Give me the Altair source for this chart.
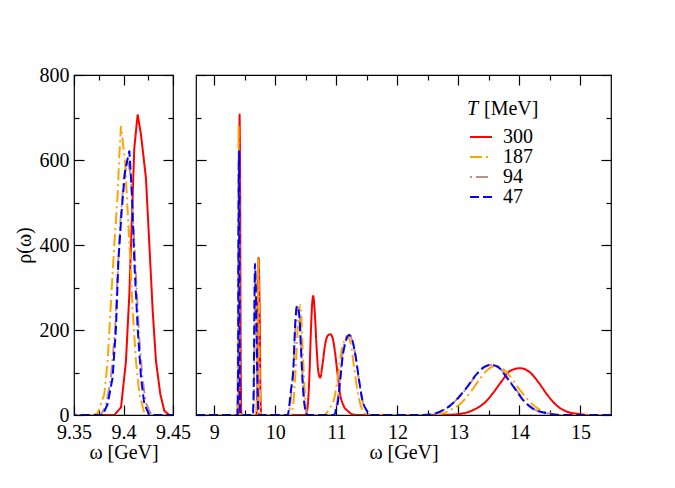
import altair as alt
import pandas as pd

# ---------------- data ----------------
T_LABELS = ["300", "187", "94", "47"]
COLORS = ["#ff0000", "#ffa500", "#bc8f8f", "#0000ff"]
DASHES = [[1, 0], [12, 4, 2, 4], [2, 4, 12, 4], [9, 4]]

w_300 = [8.70, 9.380, 9.3907, 9.3975, 9.4025, 9.4059, 9.4093, 9.4109, 9.4143, 9.4177,
         9.4227, 9.4261, 9.4295, 9.4328, 9.4372, 9.4412, 9.4462,
         9.690, 9.705, 9.715, 9.725, 9.735, 9.745, 9.755, 9.765, 9.775,
         10.500, 10.528, 10.555, 10.583, 10.605, 10.620, 10.648, 10.676, 10.703, 10.735,
         10.774, 10.817, 10.856, 10.899, 10.937, 10.975, 11.020, 11.062, 11.118, 11.183,
         11.260, 11.350,
         12.700, 12.900, 13.082, 13.274, 13.438, 13.574, 13.711, 13.848, 14.011, 14.175,
         14.311, 14.449, 14.613, 14.777, 14.995, 15.200, 15.500]
r_300 = [0, 0, 0, 18, 127, 284, 518, 628, 707, 659,
         557, 401, 245, 127, 49, 10, 0,
         0, 60, 230, 370, 320, 217, 60, 5, 0,
         0, 18, 80, 198, 265, 280, 237, 159, 104, 88,
         120, 167, 186, 190, 182, 151, 96, 49, 22, 10,
         2, 0,
         0, 1, 4, 14, 30, 53, 80, 104, 110, 100,
         77, 49, 22, 8, 2, 0, 0]

w_187 = [8.70, 9.370, 9.374, 9.3806, 9.384, 9.3874, 9.3907, 9.3941, 9.3958, 9.3975,
         9.4015, 9.4042, 9.4069, 9.4093, 9.4126, 9.416, 9.421, 9.425,
         9.685, 9.700, 9.712, 9.722, 9.732, 9.745, 9.758, 9.770,
         10.240, 10.283, 10.337, 10.365, 10.408, 10.430, 10.446, 10.473, 10.500, 10.540,
         10.800, 10.880, 10.964, 11.030, 11.074, 11.130, 11.172, 11.237, 11.290, 11.346,
         11.400, 11.460, 11.520,
         12.500, 12.754, 12.864, 13.028, 13.192, 13.328, 13.466, 13.618, 13.766, 13.902,
         14.039, 14.175, 14.339, 14.557, 14.770, 15.500]
r_187 = [0, 0, 5, 49, 127, 268, 401, 518, 612, 680,
         597, 479, 362, 245, 127, 49, 5, 0,
         0, 80, 250, 370, 250, 90, 10, 0,
         0, 15, 120, 198, 259, 220, 159, 80, 18, 0,
         0, 14, 38, 96, 143, 174, 186, 167, 112, 57,
         22, 5, 0,
         0, 4, 12, 26, 53, 80, 105, 116, 104, 80,
         53, 30, 12, 2, 0, 0]

w_94 = [8.70, 9.377, 9.382, 9.387, 9.3915, 9.394, 9.397, 9.4005, 9.4045, 9.4075,
        9.410, 9.4125, 9.416, 9.419, 9.4225, 9.427, 9.430,
        9.640, 9.655, 9.668, 9.680, 9.695, 9.710, 9.725,
        10.210, 10.260, 10.300, 10.325, 10.360, 10.395, 10.425, 10.452, 10.490, 10.535,
        10.930, 11.010, 11.055, 11.095, 11.150, 11.205, 11.260, 11.315, 11.370, 11.425,
        11.500, 11.560,
        12.400, 12.560, 12.720, 12.880, 13.010, 13.150, 13.285, 13.420, 13.540, 13.665,
        13.800, 13.940, 14.075, 14.240, 14.460, 14.680, 15.500]
r_94 = [0, 0, 20, 80, 200, 330, 460, 560, 600, 560,
        450, 330, 180, 90, 30, 5, 0,
        0, 120, 330, 300, 170, 50, 0,
        0, 50, 115, 195, 255, 235, 155, 78, 18, 0,
        0, 28, 82, 138, 176, 188, 176, 138, 82, 35,
        10, 0,
        0, 2, 9, 24, 42, 66, 92, 112, 118, 112,
        88, 61, 34, 14, 4, 0, 0]

w_47 = [8.70, 9.379, 9.384, 9.389, 9.3924, 9.3948, 9.3981, 9.4015, 9.4059, 9.4086,
        9.4109, 9.4143, 9.4177, 9.421, 9.426,
        9.630, 9.645, 9.657, 9.667, 9.680, 9.695, 9.710, 9.725, 9.735,
        10.200, 10.255, 10.299, 10.320, 10.354, 10.391, 10.419, 10.446, 10.484, 10.530,
        10.950, 11.020, 11.062, 11.101, 11.155, 11.210, 11.265, 11.319, 11.374, 11.428,
        11.500, 11.560,
        12.372, 12.536, 12.700, 12.864, 13.000, 13.138, 13.274, 13.410, 13.531, 13.656,
        13.793, 13.930, 14.066, 14.230, 14.449, 14.667, 15.500]
r_47 = [0, 0, 26, 88, 205, 362, 479, 573, 622, 518,
        362, 205, 88, 26, 0,
        0, 60, 250, 356, 300, 180, 60, 5, 0,
        0, 57, 120, 198, 256, 237, 159, 80, 18, 0,
        0, 26, 80, 135, 174, 188, 174, 135, 80, 34,
        10, 0,
        0, 1, 8, 22, 41, 65, 92, 112, 118, 112,
        88, 61, 34, 14, 4, 0, 0]

Y_MAJOR = [0, 200, 400, 600, 800]
Y_MINOR = [100, 300, 500, 700]
XL_MAJOR = [9.35, 9.40, 9.45]
XL_MINOR = [9.375, 9.425]
XR_MAJOR = [9, 10, 11, 12, 13, 14, 15]
XR_MINOR = [9.5, 10.5, 11.5, 12.5, 13.5, 14.5]

X_TITLE = "ω [GeV]"
Y_TITLE = "ρ(ω)"
LEG_VAR = ["T"]
LEG_UNIT = ["[MeV]"]

series = [("300", w_300, r_300), ("187", w_187, r_187), ("94", w_94, r_94), ("47", w_47, r_47)]
rows = []
for lab, ws, rs in series:
    for w, r in zip(ws, rs):
        rows.append({"T": lab, "w": w, "rho": r})
df = pd.DataFrame(rows)

H = 340
FONT = "Liberation Serif, Times New Roman, Times, serif"


def panel(lo, hi, width, x_major, x_minor, fmt, show_y, legend, interp):
    xs = alt.Scale(domain=[lo, hi], nice=False, zero=False)
    ys = alt.Scale(domain=[0, 800], nice=False)
    if legend:
        leg = alt.Legend(orient="none", legendX=273, legendY=53, title=None,
                         symbolType="stroke", symbolSize=484, symbolStrokeWidth=2,
                         labelFont=FONT, labelFontSize=20, labelOffset=10,
                         rowPadding=0, padding=0, clipHeight=18)
    else:
        leg = None
    yaxis = (alt.Axis(orient="left", values=Y_MAJOR, ticks=False, tickSize=0, domain=False,
                      grid=False, labelPadding=5, title=Y_TITLE, titlePadding=5)
             if show_y else None)
    lines = alt.Chart(df).mark_line(clip=True, strokeWidth=2, interpolate=interp).encode(
        x=alt.X("w:Q", scale=xs,
                axis=alt.Axis(orient="bottom", values=x_major, format=fmt, ticks=False,
                              tickSize=0, domain=False, grid=False, labelFlush=False,
                              labelPadding=7, title=X_TITLE, titlePadding=0)),
        y=alt.Y("rho:Q", scale=ys, axis=yaxis),
        color=alt.Color("T:N", scale=alt.Scale(domain=T_LABELS, range=COLORS),
                        sort=T_LABELS, legend=leg),
        strokeDash=alt.StrokeDash("T:N", scale=alt.Scale(domain=T_LABELS, range=DASHES),
                                  sort=T_LABELS, legend=leg),
    )

    def ticks(x_orient, x_vals, y_orient, y_vals, size):
        return alt.Chart(df).mark_line(clip=True, strokeOpacity=0).encode(
            x=alt.X("w:Q", scale=xs,
                    axis=alt.Axis(orient=x_orient, offset=-H, values=x_vals, labels=False,
                                  domain=False, grid=False, ticks=True, tickSize=size,
                                  title=None)),
            y=alt.Y("rho:Q", scale=ys,
                    axis=alt.Axis(orient=y_orient, offset=-width, values=y_vals, labels=False,
                                  domain=False, grid=False, ticks=True, tickSize=size,
                                  title=None)),
        )

    layers = [lines,
              ticks("top", x_major, "right", Y_MAJOR, 10),
              ticks("top", x_minor, "right", Y_MINOR, 5),
              ticks("bottom", x_major, "left", Y_MAJOR, 10),
              ticks("bottom", x_minor, "left", Y_MINOR, 5)]
    if legend:
        tdf1 = pd.DataFrame({"t": LEG_VAR})
        tdf2 = pd.DataFrame({"t": LEG_UNIT})
        layers.append(alt.Chart(tdf1).mark_text(font=FONT, fontSize=20, fontStyle="italic",
                                                align="left", baseline="alphabetic").encode(
            text="t:N", x=alt.value(271), y=alt.value(40)))
        layers.append(alt.Chart(tdf2).mark_text(font=FONT, fontSize=20,
                                                align="left", baseline="alphabetic").encode(
            text="t:N", x=alt.value(288), y=alt.value(40)))
    return alt.layer(*layers).resolve_axis(x="independent", y="independent").properties(
        width=width, height=H)


left = panel(9.35, 9.45, 99, XL_MAJOR, XL_MINOR, ".2~f", True, False, "linear")
right = panel(8.7, 15.5, 415, XR_MAJOR, XR_MINOR, "d", False, True, "monotone")

chart = alt.hconcat(left, right, spacing=23, bounds="flush").resolve_scale(
    color="independent", strokeDash="independent"
).properties(
    padding={"left": 5, "top": 56, "right": 5, "bottom": 5}
).configure(font=FONT).configure_view(
    stroke="black", strokeWidth=1.2
).configure_axis(
    labelFont=FONT, titleFont=FONT, labelFontSize=20, titleFontSize=20,
    titleFontWeight="normal", labelColor="black", titleColor="black",
    tickColor="black", tickWidth=1.2
)

chart.save("out.html", embed_options={"renderer": "svg", "actions": False})
